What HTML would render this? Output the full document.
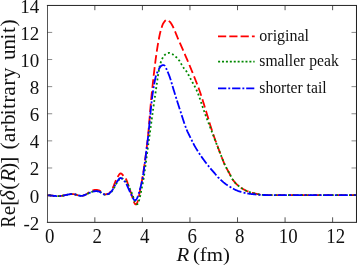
<!DOCTYPE html>
<html><head><meta charset="utf-8"><title>chart</title>
<style>
html,body{margin:0;padding:0;background:#fff;}
body{width:357px;height:266px;position:relative;overflow:hidden;font-family:"Liberation Serif",serif;}
</style></head><body>
<svg width="357" height="266" viewBox="0 0 357 266" style="position:absolute;left:0;top:0;will-change:transform">
<g fill="none" stroke-linejoin="round" stroke-width="1.8">
<path d="M47.30,195.20 L47.74,195.24 L48.18,195.28 L48.63,195.32 L49.07,195.37 L49.51,195.41 L49.95,195.45 L50.39,195.49 L50.84,195.54 L51.28,195.58 L51.72,195.62 L52.16,195.67 L52.60,195.71 L53.04,195.75 L53.49,195.80 L53.93,195.84 L54.37,195.89 L54.81,195.93 L55.25,195.97 L55.70,196.00 L56.14,196.04 L56.58,196.06 L57.02,196.08 L57.46,196.10 L57.91,196.10 L58.35,196.10 L58.79,196.09 L59.23,196.07 L59.67,196.05 L60.11,196.01 L60.56,195.97 L61.00,195.92 L61.44,195.86 L61.88,195.80 L62.32,195.73 L62.77,195.66 L63.21,195.58 L63.65,195.50 L64.09,195.42 L64.53,195.33 L64.98,195.23 L65.42,195.14 L65.86,195.04 L66.30,194.95 L66.74,194.85 L67.18,194.75 L67.63,194.66 L68.07,194.56 L68.51,194.48 L68.95,194.40 L69.39,194.32 L69.84,194.26 L70.28,194.20 L70.72,194.15 L71.16,194.12 L71.60,194.09 L72.05,194.09 L72.49,194.09 L72.93,194.11 L73.37,194.15 L73.81,194.20 L74.26,194.27 L74.70,194.35 L75.14,194.44 L75.58,194.54 L76.02,194.65 L76.46,194.77 L76.91,194.89 L77.35,195.02 L77.79,195.16 L78.23,195.29 L78.67,195.42 L79.12,195.54 L79.56,195.64 L80.00,195.73 L80.44,195.80 L80.88,195.84 L81.33,195.85 L81.77,195.83 L82.21,195.78 L82.65,195.70 L83.09,195.59 L83.53,195.45 L83.98,195.29 L84.42,195.11 L84.86,194.90 L85.30,194.68 L85.74,194.44 L86.19,194.20 L86.63,193.93 L87.07,193.67 L87.51,193.39 L87.95,193.11 L88.40,192.83 L88.84,192.54 L89.28,192.26 L89.72,191.99 L90.16,191.72 L90.60,191.46 L91.05,191.21 L91.49,190.99 L91.93,190.78 L92.37,190.59 L92.81,190.43 L93.26,190.29 L93.70,190.17 L94.14,190.08 L94.58,190.01 L95.02,189.95 L95.47,189.92 L95.91,189.91 L96.35,189.91 L96.79,189.93 L97.23,189.97 L97.68,190.03 L98.12,190.12 L98.56,190.25 L99.00,190.40 L99.44,190.60 L99.88,190.83 L100.33,191.12 L100.77,191.45 L101.21,191.83 L101.65,192.22 L102.09,192.63 L102.54,193.03 L102.98,193.41 L103.42,193.74 L103.86,194.02 L104.30,194.24 L104.75,194.38 L105.19,194.43 L105.63,194.40 L106.07,194.30 L106.51,194.16 L106.95,194.02 L107.40,193.91 L107.84,193.81 L108.28,193.68 L108.72,193.44 L109.16,193.09 L109.61,192.64 L110.05,192.12 L110.49,191.54 L110.93,190.91 L111.37,190.28 L111.82,189.62 L112.26,188.91 L112.70,188.13 L113.14,187.23 L113.58,186.20 L114.02,185.07 L114.47,183.90 L114.91,182.75 L115.35,181.66 L115.79,180.67 L116.23,179.75 L116.68,178.88 L117.12,178.04 L117.56,177.21 L118.00,176.40 L118.44,175.63 L118.89,174.93 L119.33,174.32 L119.77,173.85 L120.21,173.53 L120.65,173.39 L121.10,173.45 L121.54,173.69 L121.98,174.08 L122.42,174.57 L122.86,175.13 L123.30,175.73 L123.75,176.31 L124.19,176.86 L124.63,177.32 L125.07,177.73 L125.51,178.21 L125.96,178.89 L126.40,179.81 L126.84,180.91 L127.28,182.14 L127.72,183.44 L128.17,184.76 L128.61,186.04 L129.05,187.28 L129.49,188.49 L129.93,189.70 L130.37,190.93 L130.82,192.21 L131.26,193.56 L131.70,194.99 L132.14,196.45 L132.58,197.91 L133.03,199.31 L133.47,200.63 L133.91,201.82 L134.35,202.83 L134.79,203.64 L135.24,204.19 L135.68,204.44 L136.12,204.35 L136.56,203.92 L137.00,203.15 L137.44,202.06 L137.89,200.65 L138.33,198.97 L138.77,197.05 L139.21,194.93 L139.65,192.66 L140.10,190.31 L140.54,187.93 L140.98,185.61 L141.42,183.36 L141.86,181.02 L142.31,178.56 L142.75,175.96 L143.19,173.25 L143.63,170.42 L144.07,167.47 L144.52,164.41 L144.96,161.24 L145.40,157.95 L145.84,154.56 L146.28,151.06 L146.72,147.45 L147.17,143.74 L147.61,139.93 L148.05,135.75 L148.49,131.07 L148.93,126.01 L149.38,120.70 L149.82,115.28 L150.26,109.88 L150.70,104.63 L151.14,99.68 L151.59,95.14 L152.03,90.90 L152.47,86.72 L152.91,82.61 L153.35,78.59 L153.79,74.65 L154.24,70.83 L154.68,67.12 L155.12,63.53 L155.56,60.09 L156.00,56.80 L156.45,53.67 L156.89,50.72 L157.33,47.92 L157.77,45.20 L158.21,42.58 L158.66,40.08 L159.10,37.73 L159.54,35.55 L159.98,33.56 L160.42,31.79 L160.86,30.18 L161.31,28.64 L161.75,27.20 L162.19,25.88 L162.63,24.72 L163.07,23.74 L163.52,22.98 L163.96,22.32 L164.40,21.69 L164.84,21.11 L165.28,20.61 L165.73,20.20 L166.17,19.93 L166.61,19.80 L167.05,19.84 L167.49,19.98 L167.94,20.22 L168.38,20.53 L168.82,20.90 L169.26,21.30 L169.70,21.72 L170.14,22.14 L170.59,22.67 L171.03,23.29 L171.47,24.00 L171.91,24.76 L172.35,25.55 L172.80,26.36 L173.24,27.24 L173.68,28.17 L174.12,29.17 L174.56,30.21 L175.01,31.28 L175.45,32.37 L175.89,33.48 L176.33,34.58 L176.77,35.68 L177.21,36.75 L177.66,37.80 L178.10,38.82 L178.54,39.83 L178.98,40.84 L179.42,41.85 L179.87,42.86 L180.31,43.86 L180.75,44.86 L181.19,45.87 L181.63,46.87 L182.08,47.88 L182.52,48.89 L182.96,49.90 L183.40,50.92 L183.84,51.94 L184.28,52.96 L184.73,54.00 L185.17,55.03 L185.61,56.06 L186.05,57.09 L186.49,58.13 L186.94,59.17 L187.38,60.21 L187.82,61.25 L188.26,62.30 L188.70,63.35 L189.15,64.40 L189.59,65.46 L190.03,66.53 L190.47,67.60 L190.91,68.67 L191.36,69.76 L191.80,70.85 L192.24,71.94 L192.68,73.03 L193.12,74.12 L193.56,75.21 L194.01,76.30 L194.45,77.40 L194.89,78.50 L195.33,79.60 L195.77,80.72 L196.22,81.84 L196.66,82.97 L197.10,84.11 L197.54,85.27 L197.98,86.44 L198.43,87.63 L198.87,88.83 L199.31,90.05 L199.75,91.29 L200.19,92.55 L200.63,93.85 L201.08,95.18 L201.52,96.53 L201.96,97.91 L202.40,99.31 L202.84,100.72 L203.29,102.15 L203.73,103.59 L204.17,105.04 L204.61,106.49 L205.05,107.94 L205.50,109.39 L205.94,110.83 L206.38,112.26 L206.82,113.70 L207.26,115.15 L207.71,116.63 L208.15,118.11 L208.59,119.59 L209.03,121.07 L209.47,122.55 L209.91,124.01 L210.36,125.46 L210.80,126.88 L211.24,128.28 L211.68,129.64 L212.12,130.98 L212.57,132.29 L213.01,133.60 L213.45,134.89 L213.89,136.17 L214.33,137.43 L214.78,138.69 L215.22,139.93 L215.66,141.16 L216.10,142.38 L216.54,143.59 L216.98,144.79 L217.43,145.99 L217.87,147.17 L218.31,148.35 L218.75,149.52 L219.19,150.68 L219.64,151.83 L220.08,152.99 L220.52,154.14 L220.96,155.30 L221.40,156.45 L221.85,157.59 L222.29,158.71 L222.73,159.83 L223.17,160.92 L223.61,161.99 L224.05,163.03 L224.50,164.05 L224.94,165.03 L225.38,165.97 L225.82,166.87 L226.26,167.72 L226.71,168.55 L227.15,169.35 L227.59,170.13 L228.03,170.91 L228.47,171.69 L228.92,172.47 L229.36,173.28 L229.80,174.11 L230.24,174.99 L230.68,175.93 L231.13,176.88 L231.57,177.76 L232.01,178.51 L232.45,179.17 L232.89,179.79 L233.33,180.40 L233.78,180.98 L234.22,181.53 L234.66,182.07 L235.10,182.58 L235.54,183.07 L235.99,183.54 L236.43,183.99 L236.87,184.42 L237.31,184.83 L237.75,185.23 L238.20,185.61 L238.64,185.97 L239.08,186.32 L239.52,186.66 L239.96,186.99 L240.40,187.31 L240.85,187.63 L241.29,187.93 L241.73,188.23 L242.17,188.52 L242.61,188.80 L243.06,189.07 L243.50,189.33 L243.94,189.58 L244.38,189.83 L244.82,190.06 L245.27,190.29 L245.71,190.50 L246.15,190.71 L246.59,190.91 L247.03,191.09 L247.47,191.27 L247.92,191.44 L248.36,191.61 L248.80,191.77 L249.24,191.93 L249.68,192.08 L250.13,192.23 L250.57,192.37 L251.01,192.51 L251.45,192.64 L251.89,192.77 L252.34,192.89 L252.78,193.02 L253.22,193.13 L253.66,193.24 L254.10,193.35 L254.55,193.45 L254.99,193.55 L255.43,193.64 L255.87,193.73 L256.31,193.83 L256.75,193.92 L257.20,194.01 L257.64,194.10 L258.08,194.19 L258.52,194.28 L258.96,194.36 L259.41,194.45 L259.85,194.53 L260.29,194.60 L260.73,194.67 L261.17,194.74 L261.62,194.80 L262.06,194.85 L262.50,194.90 L262.94,194.94 L263.38,194.97 L263.82,194.99 L264.27,195.00 L264.71,195.01 L265.15,195.02 L265.59,195.02 L266.03,195.03 L266.48,195.04 L266.92,195.04 L267.36,195.05 L267.80,195.05 L268.24,195.06 L268.69,195.07 L269.13,195.07 L269.57,195.07 L270.01,195.08 L270.45,195.08 L270.89,195.09 L271.34,195.09 L271.78,195.09 L272.22,195.09 L272.66,195.10 L273.10,195.10 L273.55,195.10 L273.99,195.10 L274.43,195.10 L274.87,195.10 L275.31,195.10 L275.76,195.10 L276.20,195.10 L276.64,195.10 L277.08,195.10 L277.52,195.10 L277.97,195.10 L278.41,195.10 L278.85,195.10 L279.29,195.10 L279.73,195.10 L280.17,195.10 L280.62,195.10 L281.06,195.10 L281.50,195.10 L281.94,195.10 L282.38,195.10 L282.83,195.10 L283.27,195.10 L283.71,195.10 L284.15,195.10 L284.59,195.10 L285.04,195.10 L285.48,195.10 L285.92,195.10 L286.36,195.10 L286.80,195.10 L287.24,195.10 L287.69,195.10 L288.13,195.10 L288.57,195.10 L289.01,195.10 L289.45,195.10 L289.90,195.10 L290.34,195.10 L290.78,195.10 L291.22,195.10 L291.66,195.10 L292.11,195.10 L292.55,195.10 L292.99,195.10 L293.43,195.10 L293.87,195.10 L294.31,195.10 L294.76,195.10 L295.20,195.10 L295.64,195.10 L296.08,195.10 L296.52,195.10 L296.97,195.10 L297.41,195.10 L297.85,195.10 L298.29,195.10 L298.73,195.10 L299.18,195.10 L299.62,195.10 L300.06,195.10 L300.50,195.10 L300.94,195.10 L301.39,195.10 L301.83,195.10 L302.27,195.10 L302.71,195.10 L303.15,195.10 L303.59,195.10 L304.04,195.10 L304.48,195.10 L304.92,195.10 L305.36,195.10 L305.80,195.10 L306.25,195.10 L306.69,195.10 L307.13,195.10 L307.57,195.10 L308.01,195.10 L308.46,195.10 L308.90,195.10 L309.34,195.10 L309.78,195.10 L310.22,195.10 L310.66,195.10 L311.11,195.10 L311.55,195.10 L311.99,195.10 L312.43,195.10 L312.87,195.10 L313.32,195.10 L313.76,195.10 L314.20,195.10 L314.64,195.10 L315.08,195.10 L315.53,195.10 L315.97,195.10 L316.41,195.10 L316.85,195.10 L317.29,195.10 L317.73,195.10 L318.18,195.10 L318.62,195.10 L319.06,195.10 L319.50,195.10 L319.94,195.10 L320.39,195.10 L320.83,195.10 L321.27,195.10 L321.71,195.10 L322.15,195.10 L322.60,195.10 L323.04,195.10 L323.48,195.10 L323.92,195.10 L324.36,195.10 L324.81,195.10 L325.25,195.10 L325.69,195.10 L326.13,195.10 L326.57,195.10 L327.01,195.10 L327.46,195.10 L327.90,195.10 L328.34,195.10 L328.78,195.10 L329.22,195.10 L329.67,195.10 L330.11,195.10 L330.55,195.10 L330.99,195.10 L331.43,195.10 L331.88,195.10 L332.32,195.10 L332.76,195.10 L333.20,195.10 L333.64,195.10 L334.08,195.10 L334.53,195.10 L334.97,195.10 L335.41,195.10 L335.85,195.10 L336.29,195.10 L336.74,195.10 L337.18,195.10 L337.62,195.10 L338.06,195.10 L338.50,195.10 L338.95,195.10 L339.39,195.10 L339.83,195.10 L340.27,195.10 L340.71,195.10 L341.15,195.10 L341.60,195.10 L342.04,195.10 L342.48,195.10 L342.92,195.10 L343.36,195.10 L343.81,195.10 L344.25,195.10 L344.69,195.10 L345.13,195.10 L345.57,195.10 L346.02,195.10 L346.46,195.10 L346.90,195.10 L347.34,195.10 L347.78,195.10 L348.23,195.10 L348.67,195.10 L349.11,195.10 L349.55,195.10 L349.99,195.10 L350.43,195.10 L350.88,195.10 L351.32,195.10 L351.76,195.10 L352.20,195.10 L352.64,195.10 L353.09,195.10 L353.53,195.10 L353.97,195.10 L354.41,195.10 L354.85,195.10 L355.30,195.10 L355.74,195.10 L356.18,195.10 L356.40,195.10" stroke="#ff0000" stroke-dasharray="8.65 3.55" stroke-dashoffset="1.80"/>
<path d="M47.30,195.20 L47.74,195.24 L48.18,195.28 L48.63,195.32 L49.07,195.37 L49.51,195.41 L49.95,195.45 L50.39,195.49 L50.84,195.54 L51.28,195.58 L51.72,195.62 L52.16,195.67 L52.60,195.71 L53.04,195.75 L53.49,195.80 L53.93,195.84 L54.37,195.89 L54.81,195.93 L55.25,195.97 L55.70,196.00 L56.14,196.04 L56.58,196.06 L57.02,196.08 L57.46,196.10 L57.91,196.10 L58.35,196.10 L58.79,196.09 L59.23,196.07 L59.67,196.05 L60.11,196.01 L60.56,195.97 L61.00,195.92 L61.44,195.86 L61.88,195.80 L62.32,195.73 L62.77,195.66 L63.21,195.58 L63.65,195.50 L64.09,195.42 L64.53,195.33 L64.98,195.23 L65.42,195.14 L65.86,195.04 L66.30,194.95 L66.74,194.85 L67.18,194.75 L67.63,194.66 L68.07,194.56 L68.51,194.48 L68.95,194.40 L69.39,194.32 L69.84,194.26 L70.28,194.20 L70.72,194.15 L71.16,194.12 L71.60,194.10 L72.05,194.09 L72.49,194.09 L72.93,194.11 L73.37,194.15 L73.81,194.20 L74.26,194.27 L74.70,194.35 L75.14,194.44 L75.58,194.54 L76.02,194.65 L76.46,194.77 L76.91,194.89 L77.35,195.02 L77.79,195.16 L78.23,195.29 L78.67,195.42 L79.12,195.54 L79.56,195.65 L80.00,195.73 L80.44,195.80 L80.88,195.84 L81.33,195.85 L81.77,195.83 L82.21,195.78 L82.65,195.69 L83.09,195.58 L83.53,195.45 L83.98,195.30 L84.42,195.13 L84.86,194.96 L85.30,194.77 L85.74,194.59 L86.19,194.39 L86.63,194.20 L87.07,194.00 L87.51,193.79 L87.95,193.59 L88.40,193.38 L88.84,193.18 L89.28,192.97 L89.72,192.76 L90.16,192.56 L90.60,192.37 L91.05,192.18 L91.49,192.01 L91.93,191.85 L92.37,191.71 L92.81,191.58 L93.26,191.48 L93.70,191.39 L94.14,191.32 L94.58,191.27 L95.02,191.23 L95.47,191.21 L95.91,191.20 L96.35,191.20 L96.79,191.21 L97.23,191.24 L97.68,191.29 L98.12,191.36 L98.56,191.45 L99.00,191.57 L99.44,191.72 L99.88,191.89 L100.33,192.11 L100.77,192.36 L101.21,192.64 L101.65,192.94 L102.09,193.24 L102.54,193.54 L102.98,193.83 L103.42,194.08 L103.86,194.29 L104.30,194.46 L104.75,194.56 L105.19,194.60 L105.63,194.56 L106.07,194.48 L106.51,194.36 L106.95,194.26 L107.40,194.18 L107.84,194.13 L108.28,194.08 L108.72,193.98 L109.16,193.79 L109.61,193.51 L110.05,193.15 L110.49,192.74 L110.93,192.28 L111.37,191.79 L111.82,191.29 L112.26,190.78 L112.70,190.22 L113.14,189.60 L113.58,188.89 L114.02,188.08 L114.47,187.20 L114.91,186.29 L115.35,185.39 L115.79,184.54 L116.23,183.77 L116.68,183.06 L117.12,182.39 L117.56,181.74 L118.00,181.10 L118.44,180.49 L118.89,179.91 L119.33,179.38 L119.77,178.92 L120.21,178.56 L120.65,178.30 L121.10,178.17 L121.54,178.18 L121.98,178.31 L122.42,178.55 L122.86,178.86 L123.30,179.23 L123.75,179.64 L124.19,180.07 L124.63,180.49 L125.07,180.88 L125.51,181.22 L125.96,181.54 L126.40,181.91 L126.84,182.45 L127.28,183.16 L127.72,184.02 L128.17,184.98 L128.61,185.99 L129.05,187.01 L129.49,187.99 L129.93,188.93 L130.37,189.85 L130.82,190.78 L131.26,191.74 L131.70,192.77 L132.14,193.89 L132.58,195.11 L133.03,196.39 L133.47,197.69 L133.91,198.98 L134.35,200.21 L134.79,201.35 L135.24,202.36 L135.68,203.20 L136.12,203.82 L136.56,204.20 L137.00,204.30 L137.44,204.08 L137.89,203.53 L138.33,202.65 L138.77,201.47 L139.21,200.00 L139.65,198.29 L140.10,196.36 L140.54,194.27 L140.98,192.06 L141.42,189.81 L141.86,187.58 L142.31,185.44 L142.75,183.30 L143.19,180.92 L143.63,178.32 L144.07,175.53 L144.52,172.58 L144.96,169.49 L145.40,166.28 L145.84,162.99 L146.28,159.64 L146.72,156.26 L147.17,152.87 L147.61,149.50 L148.05,146.17 L148.49,142.92 L148.93,139.76 L149.38,136.63 L149.82,133.45 L150.26,130.24 L150.70,127.01 L151.14,123.77 L151.59,120.52 L152.03,117.28 L152.47,114.05 L152.91,110.85 L153.35,107.68 L153.79,104.55 L154.24,101.48 L154.68,98.46 L155.12,95.52 L155.56,92.58 L156.00,89.53 L156.45,86.40 L156.89,83.26 L157.33,80.14 L157.77,77.11 L158.21,74.21 L158.66,71.49 L159.10,69.00 L159.54,66.80 L159.98,64.92 L160.42,63.43 L160.86,62.16 L161.31,60.96 L161.75,59.85 L162.19,58.82 L162.63,57.88 L163.07,57.05 L163.52,56.33 L163.96,55.74 L164.40,55.27 L164.84,54.92 L165.28,54.59 L165.73,54.28 L166.17,53.99 L166.61,53.73 L167.05,53.50 L167.49,53.30 L167.94,53.13 L168.38,53.01 L168.82,52.93 L169.26,52.90 L169.70,52.92 L170.14,53.00 L170.59,53.14 L171.03,53.31 L171.47,53.53 L171.91,53.79 L172.35,54.07 L172.80,54.38 L173.24,54.71 L173.68,55.06 L174.12,55.42 L174.56,55.79 L175.01,56.15 L175.45,56.52 L175.89,56.87 L176.33,57.25 L176.77,57.67 L177.21,58.12 L177.66,58.60 L178.10,59.11 L178.54,59.65 L178.98,60.21 L179.42,60.83 L179.87,61.52 L180.31,62.26 L180.75,63.04 L181.19,63.84 L181.63,64.65 L182.08,65.44 L182.52,66.20 L182.96,66.91 L183.40,67.56 L183.84,68.14 L184.28,68.65 L184.73,69.13 L185.17,69.63 L185.61,70.18 L186.05,70.80 L186.49,71.46 L186.94,72.16 L187.38,72.90 L187.82,73.66 L188.26,74.45 L188.70,75.26 L189.15,76.08 L189.59,76.91 L190.03,77.76 L190.47,78.60 L190.91,79.44 L191.36,80.28 L191.80,81.11 L192.24,81.92 L192.68,82.72 L193.12,83.52 L193.56,84.32 L194.01,85.12 L194.45,85.93 L194.89,86.75 L195.33,87.59 L195.77,88.46 L196.22,89.36 L196.66,90.30 L197.10,91.27 L197.54,92.30 L197.98,93.39 L198.43,94.55 L198.87,95.75 L199.31,97.00 L199.75,98.28 L200.19,99.59 L200.63,100.92 L201.08,102.26 L201.52,103.61 L201.96,104.95 L202.40,106.27 L202.84,107.58 L203.29,108.86 L203.73,110.10 L204.17,111.31 L204.61,112.52 L205.05,113.71 L205.50,114.91 L205.94,116.09 L206.38,117.27 L206.82,118.44 L207.26,119.61 L207.71,120.78 L208.15,121.94 L208.59,123.10 L209.03,124.26 L209.47,125.41 L209.91,126.57 L210.36,127.72 L210.80,128.88 L211.24,130.03 L211.68,131.19 L212.12,132.35 L212.57,133.51 L213.01,134.67 L213.45,135.83 L213.89,136.99 L214.33,138.14 L214.78,139.30 L215.22,140.46 L215.66,141.61 L216.10,142.76 L216.54,143.91 L216.98,145.05 L217.43,146.19 L217.87,147.33 L218.31,148.47 L218.75,149.60 L219.19,150.72 L219.64,151.84 L220.08,152.96 L220.52,154.09 L220.96,155.23 L221.40,156.38 L221.85,157.52 L222.29,158.65 L222.73,159.78 L223.17,160.88 L223.61,161.96 L224.05,163.02 L224.50,164.04 L224.94,165.03 L225.38,165.97 L225.82,166.87 L226.26,167.72 L226.71,168.55 L227.15,169.35 L227.59,170.13 L228.03,170.91 L228.47,171.69 L228.92,172.47 L229.36,173.28 L229.80,174.11 L230.24,174.99 L230.68,175.93 L231.13,176.88 L231.57,177.76 L232.01,178.51 L232.45,179.17 L232.89,179.79 L233.33,180.40 L233.78,180.98 L234.22,181.53 L234.66,182.07 L235.10,182.58 L235.54,183.07 L235.99,183.54 L236.43,183.99 L236.87,184.42 L237.31,184.83 L237.75,185.23 L238.20,185.61 L238.64,185.97 L239.08,186.32 L239.52,186.66 L239.96,186.99 L240.40,187.31 L240.85,187.63 L241.29,187.93 L241.73,188.23 L242.17,188.52 L242.61,188.80 L243.06,189.07 L243.50,189.33 L243.94,189.58 L244.38,189.83 L244.82,190.06 L245.27,190.29 L245.71,190.50 L246.15,190.71 L246.59,190.91 L247.03,191.09 L247.47,191.27 L247.92,191.44 L248.36,191.61 L248.80,191.77 L249.24,191.93 L249.68,192.08 L250.13,192.23 L250.57,192.37 L251.01,192.51 L251.45,192.64 L251.89,192.77 L252.34,192.89 L252.78,193.02 L253.22,193.13 L253.66,193.24 L254.10,193.35 L254.55,193.45 L254.99,193.55 L255.43,193.64 L255.87,193.73 L256.31,193.83 L256.75,193.92 L257.20,194.01 L257.64,194.10 L258.08,194.19 L258.52,194.28 L258.96,194.36 L259.41,194.45 L259.85,194.53 L260.29,194.60 L260.73,194.67 L261.17,194.74 L261.62,194.80 L262.06,194.85 L262.50,194.90 L262.94,194.94 L263.38,194.97 L263.82,194.99 L264.27,195.00 L264.71,195.01 L265.15,195.02 L265.59,195.02 L266.03,195.03 L266.48,195.04 L266.92,195.04 L267.36,195.05 L267.80,195.05 L268.24,195.06 L268.69,195.07 L269.13,195.07 L269.57,195.07 L270.01,195.08 L270.45,195.08 L270.89,195.09 L271.34,195.09 L271.78,195.09 L272.22,195.09 L272.66,195.10 L273.10,195.10 L273.55,195.10 L273.99,195.10 L274.43,195.10 L274.87,195.10 L275.31,195.10 L275.76,195.10 L276.20,195.10 L276.64,195.10 L277.08,195.10 L277.52,195.10 L277.97,195.10 L278.41,195.10 L278.85,195.10 L279.29,195.10 L279.73,195.10 L280.17,195.10 L280.62,195.10 L281.06,195.10 L281.50,195.10 L281.94,195.10 L282.38,195.10 L282.83,195.10 L283.27,195.10 L283.71,195.10 L284.15,195.10 L284.59,195.10 L285.04,195.10 L285.48,195.10 L285.92,195.10 L286.36,195.10 L286.80,195.10 L287.24,195.10 L287.69,195.10 L288.13,195.10 L288.57,195.10 L289.01,195.10 L289.45,195.10 L289.90,195.10 L290.34,195.10 L290.78,195.10 L291.22,195.10 L291.66,195.10 L292.11,195.10 L292.55,195.10 L292.99,195.10 L293.43,195.10 L293.87,195.10 L294.31,195.10 L294.76,195.10 L295.20,195.10 L295.64,195.10 L296.08,195.10 L296.52,195.10 L296.97,195.10 L297.41,195.10 L297.85,195.10 L298.29,195.10 L298.73,195.10 L299.18,195.10 L299.62,195.10 L300.06,195.10 L300.50,195.10 L300.94,195.10 L301.39,195.10 L301.83,195.10 L302.27,195.10 L302.71,195.10 L303.15,195.10 L303.59,195.10 L304.04,195.10 L304.48,195.10 L304.92,195.10 L305.36,195.10 L305.80,195.10 L306.25,195.10 L306.69,195.10 L307.13,195.10 L307.57,195.10 L308.01,195.10 L308.46,195.10 L308.90,195.10 L309.34,195.10 L309.78,195.10 L310.22,195.10 L310.66,195.10 L311.11,195.10 L311.55,195.10 L311.99,195.10 L312.43,195.10 L312.87,195.10 L313.32,195.10 L313.76,195.10 L314.20,195.10 L314.64,195.10 L315.08,195.10 L315.53,195.10 L315.97,195.10 L316.41,195.10 L316.85,195.10 L317.29,195.10 L317.73,195.10 L318.18,195.10 L318.62,195.10 L319.06,195.10 L319.50,195.10 L319.94,195.10 L320.39,195.10 L320.83,195.10 L321.27,195.10 L321.71,195.10 L322.15,195.10 L322.60,195.10 L323.04,195.10 L323.48,195.10 L323.92,195.10 L324.36,195.10 L324.81,195.10 L325.25,195.10 L325.69,195.10 L326.13,195.10 L326.57,195.10 L327.01,195.10 L327.46,195.10 L327.90,195.10 L328.34,195.10 L328.78,195.10 L329.22,195.10 L329.67,195.10 L330.11,195.10 L330.55,195.10 L330.99,195.10 L331.43,195.10 L331.88,195.10 L332.32,195.10 L332.76,195.10 L333.20,195.10 L333.64,195.10 L334.08,195.10 L334.53,195.10 L334.97,195.10 L335.41,195.10 L335.85,195.10 L336.29,195.10 L336.74,195.10 L337.18,195.10 L337.62,195.10 L338.06,195.10 L338.50,195.10 L338.95,195.10 L339.39,195.10 L339.83,195.10 L340.27,195.10 L340.71,195.10 L341.15,195.10 L341.60,195.10 L342.04,195.10 L342.48,195.10 L342.92,195.10 L343.36,195.10 L343.81,195.10 L344.25,195.10 L344.69,195.10 L345.13,195.10 L345.57,195.10 L346.02,195.10 L346.46,195.10 L346.90,195.10 L347.34,195.10 L347.78,195.10 L348.23,195.10 L348.67,195.10 L349.11,195.10 L349.55,195.10 L349.99,195.10 L350.43,195.10 L350.88,195.10 L351.32,195.10 L351.76,195.10 L352.20,195.10 L352.64,195.10 L353.09,195.10 L353.53,195.10 L353.97,195.10 L354.41,195.10 L354.85,195.10 L355.30,195.10 L355.74,195.10 L356.18,195.10 L356.40,195.10" stroke="#008800" stroke-dasharray="1.9 2.467" stroke-dashoffset="2.82"/>
<path d="M47.30,195.20 L47.74,195.24 L48.18,195.28 L48.63,195.32 L49.07,195.37 L49.51,195.41 L49.95,195.45 L50.39,195.49 L50.84,195.54 L51.28,195.58 L51.72,195.62 L52.16,195.67 L52.60,195.71 L53.04,195.75 L53.49,195.80 L53.93,195.84 L54.37,195.89 L54.81,195.93 L55.25,195.97 L55.70,196.00 L56.14,196.04 L56.58,196.06 L57.02,196.08 L57.46,196.10 L57.91,196.10 L58.35,196.10 L58.79,196.09 L59.23,196.07 L59.67,196.05 L60.11,196.01 L60.56,195.97 L61.00,195.92 L61.44,195.86 L61.88,195.80 L62.32,195.73 L62.77,195.66 L63.21,195.58 L63.65,195.50 L64.09,195.42 L64.53,195.33 L64.98,195.23 L65.42,195.14 L65.86,195.04 L66.30,194.95 L66.74,194.85 L67.18,194.75 L67.63,194.66 L68.07,194.56 L68.51,194.48 L68.95,194.40 L69.39,194.32 L69.84,194.26 L70.28,194.20 L70.72,194.15 L71.16,194.12 L71.60,194.10 L72.05,194.09 L72.49,194.09 L72.93,194.11 L73.37,194.15 L73.81,194.20 L74.26,194.27 L74.70,194.35 L75.14,194.44 L75.58,194.54 L76.02,194.65 L76.46,194.77 L76.91,194.89 L77.35,195.02 L77.79,195.16 L78.23,195.29 L78.67,195.42 L79.12,195.54 L79.56,195.65 L80.00,195.73 L80.44,195.80 L80.88,195.84 L81.33,195.85 L81.77,195.83 L82.21,195.78 L82.65,195.69 L83.09,195.58 L83.53,195.45 L83.98,195.30 L84.42,195.13 L84.86,194.96 L85.30,194.77 L85.74,194.59 L86.19,194.39 L86.63,194.20 L87.07,194.00 L87.51,193.79 L87.95,193.59 L88.40,193.38 L88.84,193.18 L89.28,192.97 L89.72,192.76 L90.16,192.56 L90.60,192.37 L91.05,192.18 L91.49,192.01 L91.93,191.85 L92.37,191.71 L92.81,191.58 L93.26,191.48 L93.70,191.39 L94.14,191.32 L94.58,191.27 L95.02,191.23 L95.47,191.21 L95.91,191.20 L96.35,191.20 L96.79,191.21 L97.23,191.24 L97.68,191.29 L98.12,191.36 L98.56,191.45 L99.00,191.57 L99.44,191.72 L99.88,191.89 L100.33,192.11 L100.77,192.36 L101.21,192.64 L101.65,192.94 L102.09,193.24 L102.54,193.54 L102.98,193.83 L103.42,194.08 L103.86,194.29 L104.30,194.46 L104.75,194.56 L105.19,194.60 L105.63,194.57 L106.07,194.48 L106.51,194.37 L106.95,194.25 L107.40,194.16 L107.84,194.09 L108.28,193.98 L108.72,193.80 L109.16,193.52 L109.61,193.17 L110.05,192.75 L110.49,192.29 L110.93,191.80 L111.37,191.30 L111.82,190.78 L112.26,190.23 L112.70,189.61 L113.14,188.90 L113.58,188.09 L114.02,187.20 L114.47,186.28 L114.91,185.37 L115.35,184.52 L115.79,183.74 L116.23,183.02 L116.68,182.34 L117.12,181.67 L117.56,181.01 L118.00,180.35 L118.44,179.73 L118.89,179.16 L119.33,178.68 L119.77,178.31 L120.21,178.07 L120.65,178.00 L121.10,178.10 L121.54,178.36 L121.98,178.74 L122.42,179.20 L122.86,179.70 L123.30,180.21 L123.75,180.68 L124.19,181.07 L124.63,181.40 L125.07,181.76 L125.51,182.27 L125.96,182.97 L126.40,183.81 L126.84,184.77 L127.28,185.79 L127.72,186.84 L128.17,187.89 L128.61,188.90 L129.05,189.88 L129.49,190.85 L129.93,191.82 L130.37,192.78 L130.82,193.76 L131.26,194.75 L131.70,195.72 L132.14,196.67 L132.58,197.55 L133.03,198.35 L133.47,199.04 L133.91,199.60 L134.35,200.00 L134.79,200.23 L135.24,200.27 L135.68,200.11 L136.12,199.76 L136.56,199.18 L137.00,198.40 L137.44,197.43 L137.89,196.30 L138.33,195.01 L138.77,193.59 L139.21,192.06 L139.65,190.45 L140.10,188.79 L140.54,187.11 L140.98,185.44 L141.42,183.75 L141.86,181.84 L142.31,179.65 L142.75,177.18 L143.19,174.49 L143.63,171.60 L144.07,168.54 L144.52,165.32 L144.96,161.97 L145.40,158.53 L145.84,155.02 L146.28,151.45 L146.72,147.87 L147.17,144.28 L147.61,140.73 L148.05,137.08 L148.49,133.07 L148.93,128.79 L149.38,124.31 L149.82,119.74 L150.26,115.15 L150.70,110.65 L151.14,106.31 L151.59,102.23 L152.03,98.50 L152.47,95.21 L152.91,92.23 L153.35,89.33 L153.79,86.55 L154.24,83.92 L154.68,81.48 L155.12,79.28 L155.56,77.34 L156.00,75.71 L156.45,74.38 L156.89,73.24 L157.33,72.25 L157.77,71.34 L158.21,70.47 L158.66,69.60 L159.10,68.76 L159.54,67.98 L159.98,67.29 L160.42,66.72 L160.86,66.19 L161.31,65.75 L161.75,65.48 L162.19,65.31 L162.63,65.17 L163.07,65.10 L163.52,65.13 L163.96,65.25 L164.40,65.44 L164.84,65.72 L165.28,66.42 L165.73,67.40 L166.17,68.36 L166.61,69.37 L167.05,70.42 L167.49,71.45 L167.94,72.47 L168.38,73.50 L168.82,74.57 L169.26,75.69 L169.70,76.89 L170.14,78.17 L170.59,79.54 L171.03,80.97 L171.47,82.45 L171.91,83.96 L172.35,85.48 L172.80,86.99 L173.24,88.48 L173.68,89.93 L174.12,91.36 L174.56,92.78 L175.01,94.21 L175.45,95.63 L175.89,97.05 L176.33,98.47 L176.77,99.88 L177.21,101.29 L177.66,102.69 L178.10,104.09 L178.54,105.47 L178.98,106.85 L179.42,108.22 L179.87,109.58 L180.31,110.94 L180.75,112.30 L181.19,113.68 L181.63,115.06 L182.08,116.44 L182.52,117.82 L182.96,119.19 L183.40,120.55 L183.84,121.88 L184.28,123.20 L184.73,124.49 L185.17,125.74 L185.61,126.95 L186.05,128.13 L186.49,129.25 L186.94,130.32 L187.38,131.33 L187.82,132.28 L188.26,133.20 L188.70,134.09 L189.15,134.98 L189.59,135.88 L190.03,136.79 L190.47,137.70 L190.91,138.61 L191.36,139.52 L191.80,140.42 L192.24,141.32 L192.68,142.20 L193.12,143.07 L193.56,143.92 L194.01,144.76 L194.45,145.57 L194.89,146.36 L195.33,147.13 L195.77,147.88 L196.22,148.61 L196.66,149.34 L197.10,150.06 L197.54,150.77 L197.98,151.47 L198.43,152.16 L198.87,152.84 L199.31,153.51 L199.75,154.17 L200.19,154.83 L200.63,155.48 L201.08,156.12 L201.52,156.76 L201.96,157.38 L202.40,158.01 L202.84,158.62 L203.29,159.24 L203.73,159.84 L204.17,160.45 L204.61,161.04 L205.05,161.64 L205.50,162.23 L205.94,162.81 L206.38,163.39 L206.82,163.96 L207.26,164.52 L207.71,165.08 L208.15,165.63 L208.59,166.17 L209.03,166.71 L209.47,167.25 L209.91,167.78 L210.36,168.30 L210.80,168.83 L211.24,169.35 L211.68,169.87 L212.12,170.38 L212.57,170.90 L213.01,171.41 L213.45,171.92 L213.89,172.44 L214.33,172.95 L214.78,173.46 L215.22,173.97 L215.66,174.49 L216.10,175.01 L216.54,175.53 L216.98,176.05 L217.43,176.56 L217.87,177.05 L218.31,177.51 L218.75,177.95 L219.19,178.38 L219.64,178.80 L220.08,179.22 L220.52,179.63 L220.96,180.04 L221.40,180.44 L221.85,180.84 L222.29,181.23 L222.73,181.62 L223.17,181.99 L223.61,182.37 L224.05,182.73 L224.50,183.09 L224.94,183.44 L225.38,183.78 L225.82,184.12 L226.26,184.44 L226.71,184.76 L227.15,185.07 L227.59,185.38 L228.03,185.67 L228.47,185.96 L228.92,186.23 L229.36,186.51 L229.80,186.78 L230.24,187.05 L230.68,187.31 L231.13,187.57 L231.57,187.83 L232.01,188.08 L232.45,188.32 L232.89,188.57 L233.33,188.80 L233.78,189.03 L234.22,189.26 L234.66,189.48 L235.10,189.69 L235.54,189.90 L235.99,190.10 L236.43,190.29 L236.87,190.48 L237.31,190.66 L237.75,190.83 L238.20,190.99 L238.64,191.15 L239.08,191.29 L239.52,191.44 L239.96,191.58 L240.40,191.72 L240.85,191.86 L241.29,191.99 L241.73,192.12 L242.17,192.25 L242.61,192.37 L243.06,192.50 L243.50,192.61 L243.94,192.73 L244.38,192.84 L244.82,192.94 L245.27,193.04 L245.71,193.14 L246.15,193.24 L246.59,193.32 L247.03,193.41 L247.47,193.48 L247.92,193.56 L248.36,193.62 L248.80,193.69 L249.24,193.74 L249.68,193.80 L250.13,193.86 L250.57,193.91 L251.01,193.97 L251.45,194.02 L251.89,194.08 L252.34,194.13 L252.78,194.18 L253.22,194.23 L253.66,194.28 L254.10,194.33 L254.55,194.37 L254.99,194.42 L255.43,194.46 L255.87,194.51 L256.31,194.55 L256.75,194.59 L257.20,194.63 L257.64,194.66 L258.08,194.70 L258.52,194.73 L258.96,194.77 L259.41,194.80 L259.85,194.82 L260.29,194.85 L260.73,194.88 L261.17,194.90 L261.62,194.92 L262.06,194.94 L262.50,194.96 L262.94,194.97 L263.38,194.98 L263.82,194.99 L264.27,195.00 L264.71,195.01 L265.15,195.01 L265.59,195.02 L266.03,195.03 L266.48,195.03 L266.92,195.04 L267.36,195.05 L267.80,195.05 L268.24,195.06 L268.69,195.06 L269.13,195.07 L269.57,195.07 L270.01,195.08 L270.45,195.08 L270.89,195.08 L271.34,195.09 L271.78,195.09 L272.22,195.09 L272.66,195.09 L273.10,195.10 L273.55,195.10 L273.99,195.10 L274.43,195.10 L274.87,195.10 L275.31,195.10 L275.76,195.10 L276.20,195.10 L276.64,195.10 L277.08,195.10 L277.52,195.10 L277.97,195.10 L278.41,195.10 L278.85,195.10 L279.29,195.10 L279.73,195.10 L280.17,195.10 L280.62,195.10 L281.06,195.10 L281.50,195.10 L281.94,195.10 L282.38,195.10 L282.83,195.10 L283.27,195.10 L283.71,195.10 L284.15,195.10 L284.59,195.10 L285.04,195.10 L285.48,195.10 L285.92,195.10 L286.36,195.10 L286.80,195.10 L287.24,195.10 L287.69,195.10 L288.13,195.10 L288.57,195.10 L289.01,195.10 L289.45,195.10 L289.90,195.10 L290.34,195.10 L290.78,195.10 L291.22,195.10 L291.66,195.10 L292.11,195.10 L292.55,195.10 L292.99,195.10 L293.43,195.10 L293.87,195.10 L294.31,195.10 L294.76,195.10 L295.20,195.10 L295.64,195.10 L296.08,195.10 L296.52,195.10 L296.97,195.10 L297.41,195.10 L297.85,195.10 L298.29,195.10 L298.73,195.10 L299.18,195.10 L299.62,195.10 L300.06,195.10 L300.50,195.10 L300.94,195.10 L301.39,195.10 L301.83,195.10 L302.27,195.10 L302.71,195.10 L303.15,195.10 L303.59,195.10 L304.04,195.10 L304.48,195.10 L304.92,195.10 L305.36,195.10 L305.80,195.10 L306.25,195.10 L306.69,195.10 L307.13,195.10 L307.57,195.10 L308.01,195.10 L308.46,195.10 L308.90,195.10 L309.34,195.10 L309.78,195.10 L310.22,195.10 L310.66,195.10 L311.11,195.10 L311.55,195.10 L311.99,195.10 L312.43,195.10 L312.87,195.10 L313.32,195.10 L313.76,195.10 L314.20,195.10 L314.64,195.10 L315.08,195.10 L315.53,195.10 L315.97,195.10 L316.41,195.10 L316.85,195.10 L317.29,195.10 L317.73,195.10 L318.18,195.10 L318.62,195.10 L319.06,195.10 L319.50,195.10 L319.94,195.10 L320.39,195.10 L320.83,195.10 L321.27,195.10 L321.71,195.10 L322.15,195.10 L322.60,195.10 L323.04,195.10 L323.48,195.10 L323.92,195.10 L324.36,195.10 L324.81,195.10 L325.25,195.10 L325.69,195.10 L326.13,195.10 L326.57,195.10 L327.01,195.10 L327.46,195.10 L327.90,195.10 L328.34,195.10 L328.78,195.10 L329.22,195.10 L329.67,195.10 L330.11,195.10 L330.55,195.10 L330.99,195.10 L331.43,195.10 L331.88,195.10 L332.32,195.10 L332.76,195.10 L333.20,195.10 L333.64,195.10 L334.08,195.10 L334.53,195.10 L334.97,195.10 L335.41,195.10 L335.85,195.10 L336.29,195.10 L336.74,195.10 L337.18,195.10 L337.62,195.10 L338.06,195.10 L338.50,195.10 L338.95,195.10 L339.39,195.10 L339.83,195.10 L340.27,195.10 L340.71,195.10 L341.15,195.10 L341.60,195.10 L342.04,195.10 L342.48,195.10 L342.92,195.10 L343.36,195.10 L343.81,195.10 L344.25,195.10 L344.69,195.10 L345.13,195.10 L345.57,195.10 L346.02,195.10 L346.46,195.10 L346.90,195.10 L347.34,195.10 L347.78,195.10 L348.23,195.10 L348.67,195.10 L349.11,195.10 L349.55,195.10 L349.99,195.10 L350.43,195.10 L350.88,195.10 L351.32,195.10 L351.76,195.10 L352.20,195.10 L352.64,195.10 L353.09,195.10 L353.53,195.10 L353.97,195.10 L354.41,195.10 L354.85,195.10 L355.30,195.10 L355.74,195.10 L356.18,195.10 L356.40,195.10" stroke="#0000ff" stroke-dasharray="9.15 2.2 2.0 1.9" stroke-dashoffset="14.60"/>
</g>
<g stroke="#2a2a2a" stroke-width="0.55" fill="none">
<path d="M46.90,5.45 H357 M46.90,222.35 H357" stroke="#222" stroke-width="1.0"/>
<path d="M47.50,5.45 V222.35" stroke="#2a2a2a" stroke-width="0.8"/>
<path d="M356.5,5.45 V222.35" stroke="#222" stroke-width="1.05"/>
<line x1="94.85" y1="222.2" x2="94.85" y2="217.29999999999998" stroke-width="0.8"/>
<line x1="94.85" y1="5.3" x2="94.85" y2="10.2" stroke-width="0.8"/>
<line x1="142.41" y1="222.2" x2="142.41" y2="217.29999999999998" stroke-width="0.8"/>
<line x1="142.41" y1="5.3" x2="142.41" y2="10.2" stroke-width="0.8"/>
<line x1="189.96" y1="222.2" x2="189.96" y2="217.29999999999998" stroke-width="0.8"/>
<line x1="189.96" y1="5.3" x2="189.96" y2="10.2" stroke-width="0.8"/>
<line x1="237.52" y1="222.2" x2="237.52" y2="217.29999999999998" stroke-width="0.8"/>
<line x1="237.52" y1="5.3" x2="237.52" y2="10.2" stroke-width="0.8"/>
<line x1="285.07" y1="222.2" x2="285.07" y2="217.29999999999998" stroke-width="0.8"/>
<line x1="285.07" y1="5.3" x2="285.07" y2="10.2" stroke-width="0.8"/>
<line x1="332.62" y1="222.2" x2="332.62" y2="217.29999999999998" stroke-width="0.8"/>
<line x1="332.62" y1="5.3" x2="332.62" y2="10.2" stroke-width="0.8"/>
<line x1="47.3" y1="195.09" x2="52.199999999999996" y2="195.09"/>
<line x1="356.4" y1="195.09" x2="351.5" y2="195.09"/>
<line x1="47.3" y1="167.97" x2="52.199999999999996" y2="167.97"/>
<line x1="356.4" y1="167.97" x2="351.5" y2="167.97"/>
<line x1="47.3" y1="140.86" x2="52.199999999999996" y2="140.86"/>
<line x1="356.4" y1="140.86" x2="351.5" y2="140.86"/>
<line x1="47.3" y1="113.75" x2="52.199999999999996" y2="113.75"/>
<line x1="356.4" y1="113.75" x2="351.5" y2="113.75"/>
<line x1="47.3" y1="86.64" x2="52.199999999999996" y2="86.64"/>
<line x1="356.4" y1="86.64" x2="351.5" y2="86.64"/>
<line x1="47.3" y1="59.53" x2="52.199999999999996" y2="59.53"/>
<line x1="356.4" y1="59.53" x2="351.5" y2="59.53"/>
<line x1="47.3" y1="32.41" x2="52.199999999999996" y2="32.41"/>
<line x1="356.4" y1="32.41" x2="351.5" y2="32.41"/>
</g>
<g fill="none" stroke-width="1.7">
<path d="M218.0,36.4 H254.7" stroke="#ff0000" stroke-dasharray="8.2 3.1"/>
<path d="M218.1,61.6 H254.6" stroke="#008800" stroke-dasharray="2 1.91"/>
<path d="M218.0,88.4 H254.3" stroke="#0000ff" stroke-dasharray="8.3 2.0 1.9 1.9"/>
</g>
<g font-family="Liberation Serif, serif" font-size="19" fill="#111">
<text transform="translate(39.3,229.6) scale(1.0,1)" text-anchor="end">-2</text>
<text transform="translate(39.3,202.5) scale(1.0,1)" text-anchor="end">0</text>
<text transform="translate(39.3,175.4) scale(1.0,1)" text-anchor="end">2</text>
<text transform="translate(39.3,148.3) scale(1.0,1)" text-anchor="end">4</text>
<text transform="translate(39.3,121.2) scale(1.0,1)" text-anchor="end">6</text>
<text transform="translate(39.3,94.0) scale(1.0,1)" text-anchor="end">8</text>
<text transform="translate(39.3,66.9) scale(1.0,1)" text-anchor="end">10</text>
<text transform="translate(39.3,39.8) scale(1.0,1)" text-anchor="end">12</text>
<text transform="translate(39.3,12.7) scale(1.0,1)" text-anchor="end">14</text>
<text transform="translate(49.6,242.8) scale(0.93,1)" font-size="20.3" text-anchor="middle">0</text>
<text transform="translate(97.2,242.8) scale(0.93,1)" font-size="20.3" text-anchor="middle">2</text>
<text transform="translate(144.7,242.8) scale(0.93,1)" font-size="20.3" text-anchor="middle">4</text>
<text transform="translate(192.3,242.8) scale(0.93,1)" font-size="20.3" text-anchor="middle">6</text>
<text transform="translate(239.8,242.8) scale(0.93,1)" font-size="20.3" text-anchor="middle">8</text>
<text transform="translate(288.3,242.8) scale(0.93,1)" font-size="20.3" text-anchor="middle">10</text>
<text transform="translate(335.8,242.8) scale(0.93,1)" font-size="20.3" text-anchor="middle">12</text>
<text transform="translate(176.4,261.4) scale(1.067,1)" font-size="19.5" font-style="italic">R</text>
<text transform="translate(192.9,261.4) scale(1.067,1)" font-size="19.5">(fm)</text>
<text transform="translate(14.9,227.51) rotate(-90) scale(0.87,1)" font-size="20.4">R</text>
<text transform="translate(14.9,215.25) rotate(-90) scale(1.049,1)" font-size="20.4">e</text>
<text transform="translate(14.9,205.72) rotate(-90) scale(1.049,1)" font-size="20.4">[</text>
<text transform="translate(14.9,200.23) rotate(-90) scale(1.049,1)" font-size="20.4" font-style="italic">δ</text>
<text transform="translate(14.9,189.79) rotate(-90) scale(1.049,1)" font-size="20.4">(</text>
<text transform="translate(14.9,182.10) rotate(-90) scale(1.049,1)" font-size="20.4" font-style="italic">R</text>
<text transform="translate(14.9,169.99) rotate(-90) scale(1.049,1)" font-size="20.4">)</text>
<text transform="translate(14.9,163.76) rotate(-90) scale(1.049,1)" font-size="20.4">]</text>
<text transform="translate(14.9,149.44) rotate(-90) scale(1.049,1)" font-size="20.4">(</text>
<text transform="translate(14.9,142.13) rotate(-90) scale(1.049,1)" font-size="20.4">a</text>
<text transform="translate(14.9,132.38) rotate(-90) scale(1.049,1)" font-size="20.4">r</text>
<text transform="translate(14.9,124.94) rotate(-90) scale(1.049,1)" font-size="20.4">b</text>
<text transform="translate(14.9,115.24) rotate(-90) scale(1.049,1)" font-size="20.4">i</text>
<text transform="translate(14.9,109.02) rotate(-90) scale(1.049,1)" font-size="20.4">t</text>
<text transform="translate(14.9,102.68) rotate(-90) scale(1.049,1)" font-size="20.4">r</text>
<text transform="translate(14.9,95.63) rotate(-90) scale(1.049,1)" font-size="20.4">a</text>
<text transform="translate(14.9,85.68) rotate(-90) scale(1.049,1)" font-size="20.4">r</text>
<text transform="translate(14.9,78.14) rotate(-90) scale(1.049,1)" font-size="20.4">y</text>
<text transform="translate(14.9,60.11) rotate(-90) scale(1.049,1)" font-size="20.4">u</text>
<text transform="translate(14.9,49.83) rotate(-90) scale(1.049,1)" font-size="20.4">n</text>
<text transform="translate(14.9,39.54) rotate(-90) scale(1.049,1)" font-size="20.4">i</text>
<text transform="translate(14.9,33.02) rotate(-90) scale(1.049,1)" font-size="20.4">t</text>
<text transform="translate(14.9,26.44) rotate(-90) scale(1.049,1)" font-size="20.4">)</text>
</g>
<g font-family="Liberation Serif, serif" font-size="16" fill="#111">
<text x="259.3" y="41.3">original</text>
<text x="259.3" y="66.3" textLength="79.4" lengthAdjust="spacingAndGlyphs">smaller peak</text>
<text x="259.3" y="92.8" textLength="67.3" lengthAdjust="spacingAndGlyphs">shorter tail</text>
</g>
</svg>
</body></html>
